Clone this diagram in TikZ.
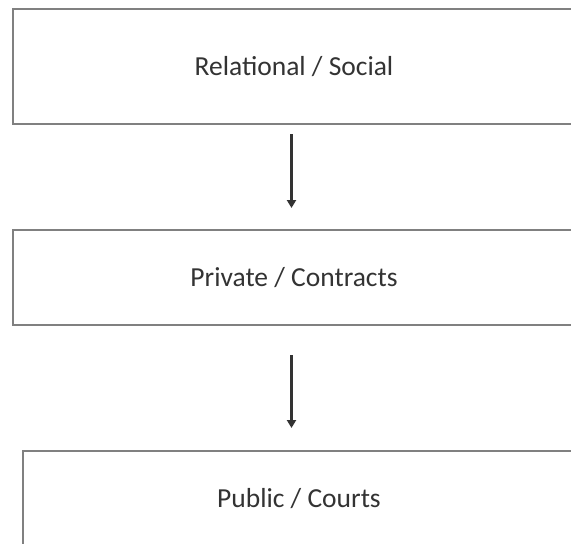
\documentclass[tikz,border=0pt]{standalone}
\usepackage{fontspec}
\setmainfont{Carlito}
\usepackage{tikz}
\usetikzlibrary{arrows.meta, positioning}

\begin{document}
\begin{tikzpicture}[
		box/.style={draw=black!50, line width=2.5pt, outer sep=0pt, minimum width=562pt,
			font=\fontsize{27.5}{33}\selectfont, text=black!80},
		flow/.style={-{Triangle[width=9pt,length=8pt]}, line width=2.2pt, black!80},
		every node/.style={align=center}
		]
		
		% page
		\useasboundingbox[fill=white] (0,0) rectangle (571pt,-544pt);
		\clip (0,0) rectangle (571pt,-544pt);
		
		% Boxes
		\node[box, minimum height=115pt] (rel) at (294pt,-66.5pt) {Relational / Social};
		\node[box, minimum height=95pt, below=106pt of rel] (priv) {Private / Contracts};
		\node[box, minimum height=96pt, minimum width=552pt, below=126pt of priv, xshift=5pt] (pub) {Public / Courts};
		
		% Arrows
		\draw[flow, shorten <=10pt, shorten >=22pt] ([xshift=-2.5pt]rel.south) -- ([xshift=-2.5pt]priv.north);
		\draw[flow, shorten <=30pt, shorten >=23pt] ([xshift=-2.5pt]priv.south) -- ([xshift=-7.5pt]pub.north);
		
	\end{tikzpicture}
\end{document}
